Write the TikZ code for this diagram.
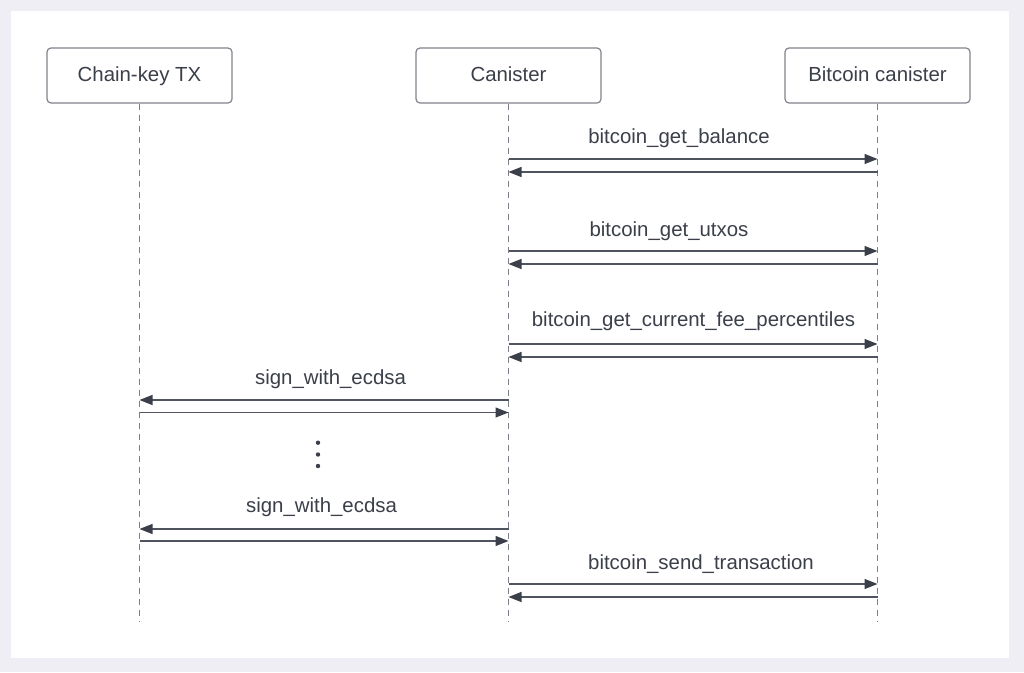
\documentclass[tikz,border=0pt]{standalone}
\usepackage{fontspec}
\setmainfont{Liberation Sans}
\usetikzlibrary{arrows.meta}
\definecolor{bgout}{HTML}{EFEEF5}
\definecolor{txt}{HTML}{3B3F49}
\definecolor{boxline}{HTML}{80848D}
\definecolor{lifeln}{HTML}{7C8089}
\definecolor{msgline}{HTML}{4F545E}
\definecolor{headc}{HTML}{3B3F4A}
\tikzset{
  actor/.style={draw=boxline, line width=1.2pt, rounded corners=4pt, fill=white,
    minimum width=185pt, minimum height=55pt, inner sep=0pt,
    text height=15pt, text depth=4pt,
    text=txt, font=\fontsize{20.4}{24}\selectfont},
  lifeline/.style={draw=lifeln, line width=1.1pt, dash pattern=on 6pt off 5pt},
  msg/.style={draw=msgline, line width=1.3pt,
    -{Triangle[length=13pt,width=10pt,fill=headc,color=headc]}},
  lbl/.style={text=txt, font=\fontsize{20.4}{24}\selectfont, anchor=base, inner sep=0pt},
  dotc/.style={circle, fill=headc, inner sep=0pt, minimum size=4.4pt}
}
\begin{document}
\begin{tikzpicture}[x=1pt,y=-1pt]
  \fill[bgout] (0,0) rectangle (1024,672);
  \fill[white] (11,11) rectangle (1009,658);
  \useasboundingbox (0,0) rectangle (1024,672);

  % actors
  \node[actor] (ck) at (139.5,75.5) {Chain-key TX};
  \node[actor] (can) at (508.5,75.5) {Canister};
  \node[actor] (btc) at (877.5,75.5) {Bitcoin canister};

  % lifeline ends
  \coordinate (ckend) at (139.5,621);
  \coordinate (canend) at (508.5,621);
  \coordinate (btcend) at (877.5,621);
  \draw[lifeline] (ck.south) -- (ckend);
  \draw[lifeline] (can.south) -- (canend);
  \draw[lifeline] (btc.south) -- (btcend);

  % message anchor points
  \foreach \n/\y in {m1/159, r1/172, m2/251, r2/264, m3/344, r3/357, m6/584, r6/597}{
    \coordinate (\n c) at (508.5,\y);
    \coordinate (\n b) at (877.5,\y);
  }
  \foreach \n/\y in {m4/400, r4/412.5, m5/529, r5/541}{
    \coordinate (\n k) at (139.5,\y);
    \coordinate (\n c) at (508.5,\y);
  }

  % bitcoin_get_balance
  \node[lbl] (l1) at (679,143.3) {bitcoin\_get\_balance};
  \draw[msg] (m1c) -- (m1b);
  \draw[msg] (r1b) -- (r1c);

  % bitcoin_get_utxos
  \node[lbl] (l2) at (669,236) {bitcoin\_get\_utxos};
  \draw[msg] (m2c) -- (m2b);
  \draw[msg] (r2b) -- (r2c);

  % bitcoin_get_current_fee_percentiles
  \node[lbl] (l3) at (693.5,326.7) {bitcoin\_get\_current\_fee\_percentiles};
  \draw[msg] (m3c) -- (m3b);
  \draw[msg] (r3b) -- (r3c);

  % sign_with_ecdsa (1)
  \node[lbl] (l4) at (330.5,384.5) {sign\_with\_ecdsa};
  \draw[msg] (m4c) -- (m4k);
  \draw[msg] (r4k) -- (r4c);

  % dots
  \node[dotc] (d1) at (318,442.7) {};
  \node[dotc] (d2) at (318,454.5) {};
  \node[dotc] (d3) at (318,466) {};

  % sign_with_ecdsa (2)
  \node[lbl] (l5) at (321.5,512.7) {sign\_with\_ecdsa};
  \draw[msg] (m5c) -- (m5k);
  \draw[msg] (r5k) -- (r5c);

  % bitcoin_send_transaction
  \node[lbl] (l6) at (701,569) {bitcoin\_send\_transaction};
  \draw[msg] (m6c) -- (m6b);
  \draw[msg] (r6b) -- (r6c);
\end{tikzpicture}
\end{document}
